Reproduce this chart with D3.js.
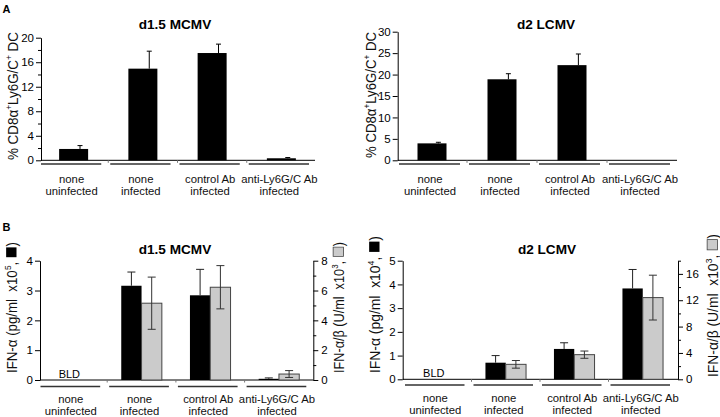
<!DOCTYPE html>
<html><head><meta charset="utf-8">
<script src="https://cdn.jsdelivr.net/npm/d3@7"></script>
<style>
body{margin:0;background:#fff}
svg{display:block}
text{font-family:"Liberation Sans",Arial,Helvetica,sans-serif;white-space:pre}
</style>
</head><body>
<svg id="c" width="720" height="417"></svg>
<script>
// ---------- data ----------
const categoryLine1 = ["none", "none", "control Ab", "anti-Ly6G/C Ab"];
const categoryLine2 = ["uninfected", "infected", "infected", "infected"];

// Panel A: % CD8a+ Ly6G/C+ DC
const mcmvDC    = [1.85, 14.95, 17.5, 0.33];
const mcmvDCErr = [0.55, 2.85, 1.45, 0.12];
const lcmvDC    = [3.95, 18.9, 22.2, 0];
const lcmvDCErr = [0.25, 1.3, 2.6, 0];
const mcmvDCTicks = [0, 4, 8, 12, 16, 20];
const mcmvDCMinor = [2, 6, 10, 14, 18];
const lcmvDCTicks = [0, 5, 10, 15, 20, 25, 30];

// Panel B: IFN-alpha (black, left axis) and IFN-alpha/beta (gray, right axis)
const mcmvIFNa      = [0, 3.16, 2.84, 0.04];
const mcmvIFNaErr   = [0, 0.46, 0.87, 0.03];
const mcmvIFNab     = [0, 5.15, 6.22, 0.4];
const mcmvIFNabErr  = [0, 1.75, 1.45, 0.23];
const lcmvIFNa      = [0, 0.70, 1.28, 3.83];
const lcmvIFNaErr   = [0, 0.30, 0.26, 0.80];
const lcmvIFNab     = [0, 2.27, 3.74, 12.4];
const lcmvIFNabErr  = [0, 0.58, 0.55, 3.4];
const mcmvIFNaTicks  = [0, 1, 2, 3, 4];
const mcmvIFNabTicks = [0, 2, 4, 6, 8];
const mcmvIFNabMinor = [1, 3, 5, 7];
const lcmvIFNaTicks  = [0, 1, 2, 3, 4, 5];
const lcmvIFNabTicks = [0, 4, 8, 12, 16];
const lcmvIFNabMinor = [2, 6, 10, 14, 18];

const titles = ["d1.5 MCMV", "d2 LCMV"];
const bldText = "BLD";

// ---------- drawing ----------
const svg = d3.select("#c");
const BLACK = "#000";
const GRAY = "#cbcbcb";

function styleAxis(sel, fs) {
  sel.attr("font-family", null).attr("font-size", null);
  sel.selectAll("text").attr("font-size", fs).attr("fill", "#000");
  sel.selectAll("line").attr("stroke", "#000");
  sel.select(".domain").attr("stroke", "#000");
}

function drawPanel(p) {
  const g = svg.append("g");
  const x = d3.scaleBand().domain(d3.range(categoryLine1.length)).range(p.band);
  const bw = x.bandwidth();
  const y = d3.scaleLinear().domain(p.yDomain).range([p.yBot, p.yTop]);
  const y2 = p.y2Domain ? d3.scaleLinear().domain(p.y2Domain).range([p.yBot, p.yTop]) : null;
  const y0 = y(0);

  // x axis line + small separators
  g.append("line").attr("x1", p.axisX).attr("x2", p.xEnd).attr("y1", y0).attr("y2", y0)
    .attr("stroke", "#000").attr("stroke-width", 1);
  g.selectAll(null).data(d3.range(1, categoryLine1.length)).join("line")
    .attr("x1", d => x(d)).attr("x2", d => x(d)).attr("y1", y0).attr("y2", y0 + 2.5)
    .attr("stroke", "#777").attr("stroke-width", 1);

  // bars
  const n = p.series.length;
  p.series.forEach((s, si) => {
    const sc = s.axis === "right" ? y2 : y;
    const items = s.values.map((v, i) => ({ v, i, e: s.err[i] })).filter(d => d.v > 0);
    const bx = i => x(i) + bw / 2 - n * p.barW / 2 + si * p.barW;
    g.selectAll(null).data(items).join("rect")
      .attr("x", d => bx(d.i)).attr("width", p.barW)
      .attr("y", d => sc(d.v)).attr("height", d => sc(0) - sc(d.v))
      .attr("fill", s.fill).attr("stroke", s.stroke || "none").attr("stroke-width", s.stroke ? 1 : 0);
    const ex = d => bx(d.i) + p.barW / 2 + (p.errOffset || 0) * p.barW;
    const errItems = items.filter(d => d.e > 0);
    g.selectAll(null).data(errItems).join("line")
      .attr("x1", ex).attr("x2", ex)
      .attr("y1", d => sc(s.errDown ? d.v - d.e : d.v)).attr("y2", d => sc(d.v + d.e))
      .attr("stroke", s.errColor).attr("stroke-width", 1);
    g.selectAll(null).data(errItems).join("line")
      .attr("x1", d => ex(d) - p.capW / 2).attr("x2", d => ex(d) + p.capW / 2)
      .attr("y1", d => sc(d.v + d.e)).attr("y2", d => sc(d.v + d.e))
      .attr("stroke", s.errColor).attr("stroke-width", 1);
    if (s.errDown) {
      g.selectAll(null).data(errItems).join("line")
        .attr("x1", d => ex(d) - p.capW / 2).attr("x2", d => ex(d) + p.capW / 2)
        .attr("y1", d => sc(d.v - d.e)).attr("y2", d => sc(d.v - d.e))
        .attr("stroke", s.errColor).attr("stroke-width", 1);
    }
  });

  // left axis
  const la = g.append("g").attr("transform", `translate(${p.axisX},0)`)
    .call(d3.axisLeft(y).tickValues(p.ticks).tickSize(5).tickSizeOuter(0).tickPadding(2).tickFormat(d3.format("d")));
  styleAxis(la, 11.5);
  if (p.minor) {
    const lm = g.append("g").attr("transform", `translate(${p.axisX},0)`)
      .call(d3.axisLeft(y).tickValues(p.minor).tickSize(3).tickFormat(""));
    lm.select(".domain").remove();
    styleAxis(lm, 11.5);
  }
  // right axis
  if (y2) {
    const ra = g.append("g").attr("transform", `translate(${p.axis2X},0)`)
      .call(d3.axisRight(y2).tickValues(p.ticks2).tickSize(5).tickSizeOuter(0).tickPadding(3).tickFormat(d3.format("d")));
    styleAxis(ra, 11.5);
    const rm = g.append("g").attr("transform", `translate(${p.axis2X},0)`)
      .call(d3.axisRight(y2).tickValues(p.minor2).tickSize(3).tickFormat(""));
    rm.select(".domain").remove();
    styleAxis(rm, 11.5);
  }

  // category underlines + labels
  g.selectAll(null).data(d3.range(categoryLine1.length)).join("line")
    .attr("x1", i => x(i) + 2).attr("x2", i => x(i) + bw - 7)
    .attr("y1", y0 + p.ulOff).attr("y2", y0 + p.ulOff)
    .attr("stroke", "#333").attr("stroke-width", 1.3);
  const cx = i => x(i) + bw / 2 - 2;
  g.selectAll(null).data(d3.range(categoryLine1.length)).join("text")
    .attr("text-anchor", "middle").attr("font-size", 11.3).attr("fill", "#111")
    .attr("x", cx).attr("y", y0 + 22.5).text(i => categoryLine1[i]);
  g.selectAll(null).data(d3.range(categoryLine2.length)).join("text")
    .attr("text-anchor", "middle").attr("font-size", 11.3).attr("fill", "#111")
    .attr("x", cx).attr("y", y0 + 35).text(i => categoryLine2[i]);

  // title
  g.append("text").attr("x", p.titleX).attr("y", p.titleY).attr("text-anchor", "middle")
    .attr("font-size", 13.6).attr("font-weight", "bold").text(p.title);

  if (p.bld) {
    g.append("text").attr("x", x(0) + bw / 2 - 3.5).attr("y", y0 - 2.5).attr("text-anchor", "middle")
      .attr("font-size", 11).text(bldText);
  }

  // axis titles
  p.labels.forEach(L => rotLabel(L));
}

// rotated axis title made of text parts and legend squares, fitted to a length
function rotLabel(L) {
  const fs = 14;
  const outer = svg.append("g").attr("transform", `translate(${L.bx},${L.cy}) rotate(-90)`);
  const inner = outer.append("g");
  let cur = 0;
  L.parts.forEach(pt => {
    if (pt.rect) {
      const s = fs * 0.74;
      inner.append("rect").attr("x", cur + 1).attr("y", -s - 0.5).attr("width", s).attr("height", s)
        .attr("fill", pt.rect).attr("stroke", pt.rect === BLACK ? "none" : "#444").attr("stroke-width", 0.8);
      cur += s + 2;
    } else {
      const t = inner.append("text").attr("x", cur)
        .attr("y", pt.sup ? -fs * 0.42 : 0)
        .attr("font-size", pt.sup ? fs * 0.62 : fs).attr("fill", "#111").text(pt.s);
      cur += t.node().getComputedTextLength();
    }
  });
  const sc = L.len / cur;
  inner.attr("transform", `scale(${sc},1) translate(${-cur / 2},0)`);
}

// Panel letters
svg.append("text").attr("x", 2.5).attr("y", 12.5).attr("font-size", 11).attr("font-weight", "bold").text("A");
svg.append("text").attr("x", 2.5).attr("y", 230.5).attr("font-size", 11).attr("font-weight", "bold").text("B");

const dcLabel = [{ s: "% CD8α" }, { s: "+", sup: true }, { s: "Ly6G/C" }, { s: "+", sup: true }, { s: " DC" }];

drawPanel({
  band: [39, 316], axisX: 41, xEnd: 315, yTop: 37.7, yBot: 160.3, yDomain: [0, 20],
  ticks: mcmvDCTicks, minor: mcmvDCMinor, barW: 29, capW: 5, errOffset: 0.22, ulOff: 3.7,
  title: titles[0], titleX: 175, titleY: 29.3,
  series: [{ values: mcmvDC, err: mcmvDCErr, fill: BLACK, errColor: "#000" }],
  labels: [{ bx: 18.3, cy: 96, len: 128, parts: dcLabel }]
});

drawPanel({
  band: [397, 677], axisX: 397.7, xEnd: 677, yTop: 31.7, yBot: 160.3, yDomain: [0, 30],
  ticks: lcmvDCTicks, barW: 29, capW: 5, errOffset: 0.22, ulOff: 3.7,
  title: titles[1], titleX: 546, titleY: 29.3,
  series: [{ values: lcmvDC, err: lcmvDCErr, fill: BLACK, errColor: "#000" }],
  labels: [{ bx: 376, cy: 95, len: 126, parts: dcLabel }]
});

drawPanel({
  band: [38.5, 313.3], axisX: 40, xEnd: 313.3, axis2X: 313.3, yTop: 260.7, yBot: 380,
  yDomain: [0, 4], y2Domain: [0, 8], ticks: mcmvIFNaTicks, ticks2: mcmvIFNabTicks, minor2: mcmvIFNabMinor,
  barW: 20.3, capW: 8, ulOff: 6.5, bld: true,
  title: titles[0], titleX: 175, titleY: 254.3,
  series: [
    { values: mcmvIFNa, err: mcmvIFNaErr, fill: BLACK, errColor: "#222", axis: "left" },
    { values: mcmvIFNab, err: mcmvIFNabErr, fill: GRAY, stroke: "#444", errColor: "#333", errDown: true, axis: "right" }
  ],
  labels: [
    { bx: 17, cy: 307.5, len: 131, parts: [{ s: "IFN-α (pg/ml  x10" }, { s: "5", sup: true }, { s: ", " }, { rect: BLACK }, { s: ")" }] },
    { bx: 344, cy: 307.5, len: 131, parts: [{ s: "IFN-α/β (U/ml  x10" }, { s: "3", sup: true }, { s: ", " }, { rect: GRAY }, { s: ")" }] }
  ]
});

drawPanel({
  band: [403, 677], axisX: 402.7, xEnd: 678, axis2X: 678, yTop: 260.7, yBot: 379.3,
  yDomain: [0, 5], y2Domain: [0, 18], ticks: lcmvIFNaTicks, ticks2: lcmvIFNabTicks, minor2: lcmvIFNabMinor,
  barW: 20.3, capW: 8, ulOff: 5.7, bld: true,
  title: titles[1], titleX: 547, titleY: 254.3,
  series: [
    { values: lcmvIFNa, err: lcmvIFNaErr, fill: BLACK, errColor: "#222", axis: "left" },
    { values: lcmvIFNab, err: lcmvIFNabErr, fill: GRAY, stroke: "#444", errColor: "#333", errDown: true, axis: "right" }
  ],
  labels: [
    { bx: 380, cy: 304.5, len: 137, parts: [{ s: "IFN-α (pg/ml  x10" }, { s: "4", sup: true }, { s: ", " }, { rect: BLACK }, { s: ")" }] },
    { bx: 718, cy: 305.5, len: 143, parts: [{ s: "IFN-α/β (U/ml  x10" }, { s: "3", sup: true }, { s: ", " }, { rect: GRAY }, { s: ")" }] }
  ]
});
</script>
</body></html>
